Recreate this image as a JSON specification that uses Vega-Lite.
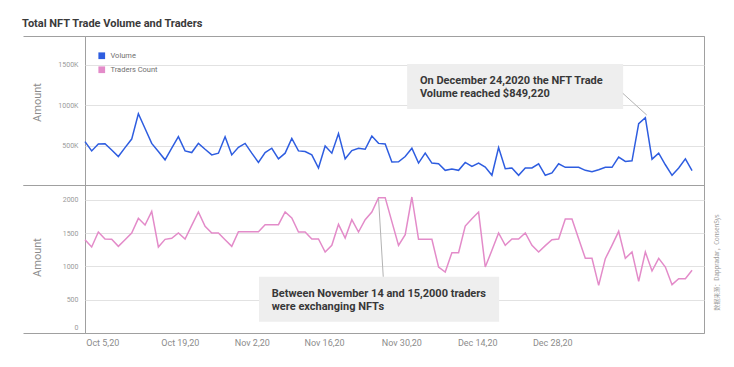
{
  "$schema": "https://vega.github.io/schema/vega-lite/v6.json",
  "padding": {"left": 22, "top": 18, "right": 10, "bottom": 5},
  "bounds": "flush",
  "spacing": 0,
  "title": {"text": "Total NFT Trade Volume and Traders", "anchor": "start", "font": "Roboto", "fontSize": 11, "fontWeight": "bold", "color": "#3a3a3a", "offset": 6},
  "data": {
    "format": {"parse": {"date": "date:'%Y-%m-%d'"}},
    "values": [
      {"date": "2020-10-01", "volume": 553000, "traders": 1400},
      {"date": "2020-10-02", "volume": 439000, "traders": 1290},
      {"date": "2020-10-03", "volume": 524000, "traders": 1515},
      {"date": "2020-10-04", "volume": 528000, "traders": 1410},
      {"date": "2020-10-05", "volume": 451000, "traders": 1405},
      {"date": "2020-10-06", "volume": 370000, "traders": 1300},
      {"date": "2020-10-07", "volume": 480000, "traders": 1400},
      {"date": "2020-10-08", "volume": 585000, "traders": 1500},
      {"date": "2020-10-09", "volume": 898000, "traders": 1720},
      {"date": "2020-10-10", "volume": 715000, "traders": 1620},
      {"date": "2020-10-11", "volume": 532000, "traders": 1825},
      {"date": "2020-10-12", "volume": 431000, "traders": 1290},
      {"date": "2020-10-13", "volume": 329000, "traders": 1405},
      {"date": "2020-10-14", "volume": 472000, "traders": 1420},
      {"date": "2020-10-15", "volume": 614000, "traders": 1500},
      {"date": "2020-10-16", "volume": 439000, "traders": 1410},
      {"date": "2020-10-17", "volume": 419000, "traders": 1615},
      {"date": "2020-10-18", "volume": 532000, "traders": 1815},
      {"date": "2020-10-19", "volume": 459000, "traders": 1600},
      {"date": "2020-10-20", "volume": 390000, "traders": 1500},
      {"date": "2020-10-21", "volume": 411000, "traders": 1500},
      {"date": "2020-10-22", "volume": 614000, "traders": 1400},
      {"date": "2020-10-23", "volume": 390000, "traders": 1300},
      {"date": "2020-10-24", "volume": 484000, "traders": 1520},
      {"date": "2020-10-25", "volume": 532000, "traders": 1520},
      {"date": "2020-10-26", "volume": 411000, "traders": 1520},
      {"date": "2020-10-27", "volume": 297000, "traders": 1520},
      {"date": "2020-10-28", "volume": 419000, "traders": 1625},
      {"date": "2020-10-29", "volume": 472000, "traders": 1625},
      {"date": "2020-10-30", "volume": 341000, "traders": 1625},
      {"date": "2020-10-31", "volume": 411000, "traders": 1815},
      {"date": "2020-11-01", "volume": 593000, "traders": 1725},
      {"date": "2020-11-02", "volume": 439000, "traders": 1515},
      {"date": "2020-11-03", "volume": 431000, "traders": 1515},
      {"date": "2020-11-04", "volume": 390000, "traders": 1410},
      {"date": "2020-11-05", "volume": 228000, "traders": 1410},
      {"date": "2020-11-06", "volume": 500000, "traders": 1215},
      {"date": "2020-11-07", "volume": 411000, "traders": 1315},
      {"date": "2020-11-08", "volume": 654000, "traders": 1630},
      {"date": "2020-11-09", "volume": 341000, "traders": 1425},
      {"date": "2020-11-10", "volume": 443000, "traders": 1700},
      {"date": "2020-11-11", "volume": 472000, "traders": 1515},
      {"date": "2020-11-12", "volume": 459000, "traders": 1700},
      {"date": "2020-11-13", "volume": 622000, "traders": 1815},
      {"date": "2020-11-14", "volume": 532000, "traders": 2030},
      {"date": "2020-11-15", "volume": 524000, "traders": 2030},
      {"date": "2020-11-16", "volume": 301000, "traders": 1670},
      {"date": "2020-11-17", "volume": 305000, "traders": 1315},
      {"date": "2020-11-18", "volume": 370000, "traders": 1475},
      {"date": "2020-11-19", "volume": 472000, "traders": 2040},
      {"date": "2020-11-20", "volume": 289000, "traders": 1405},
      {"date": "2020-11-21", "volume": 411000, "traders": 1405},
      {"date": "2020-11-22", "volume": 289000, "traders": 1405},
      {"date": "2020-11-23", "volume": 280000, "traders": 990},
      {"date": "2020-11-24", "volume": 199000, "traders": 915},
      {"date": "2020-11-25", "volume": 215000, "traders": 1205},
      {"date": "2020-11-26", "volume": 199000, "traders": 1205},
      {"date": "2020-11-27", "volume": 297000, "traders": 1605},
      {"date": "2020-11-28", "volume": 248000, "traders": 1715},
      {"date": "2020-11-29", "volume": 289000, "traders": 1815},
      {"date": "2020-11-30", "volume": 240000, "traders": 990},
      {"date": "2020-12-01", "volume": 138000, "traders": 1240},
      {"date": "2020-12-02", "volume": 480000, "traders": 1500},
      {"date": "2020-12-03", "volume": 220000, "traders": 1315},
      {"date": "2020-12-04", "volume": 228000, "traders": 1410},
      {"date": "2020-12-05", "volume": 138000, "traders": 1410},
      {"date": "2020-12-06", "volume": 228000, "traders": 1500},
      {"date": "2020-12-07", "volume": 228000, "traders": 1315},
      {"date": "2020-12-08", "volume": 280000, "traders": 1215},
      {"date": "2020-12-09", "volume": 138000, "traders": 1310},
      {"date": "2020-12-10", "volume": 167000, "traders": 1400},
      {"date": "2020-12-11", "volume": 280000, "traders": 1410},
      {"date": "2020-12-12", "volume": 236000, "traders": 1710},
      {"date": "2020-12-13", "volume": 236000, "traders": 1710},
      {"date": "2020-12-14", "volume": 236000, "traders": 1415},
      {"date": "2020-12-15", "volume": 199000, "traders": 1120},
      {"date": "2020-12-16", "volume": 183000, "traders": 1120},
      {"date": "2020-12-17", "volume": 207000, "traders": 715},
      {"date": "2020-12-18", "volume": 236000, "traders": 1115},
      {"date": "2020-12-19", "volume": 236000, "traders": 1315},
      {"date": "2020-12-20", "volume": 362000, "traders": 1525},
      {"date": "2020-12-21", "volume": 309000, "traders": 1120},
      {"date": "2020-12-22", "volume": 317000, "traders": 1215},
      {"date": "2020-12-23", "volume": 776000, "traders": 775},
      {"date": "2020-12-24", "volume": 849220, "traders": 1215},
      {"date": "2020-12-25", "volume": 337000, "traders": 930},
      {"date": "2020-12-26", "volume": 411000, "traders": 1120},
      {"date": "2020-12-27", "volume": 268000, "traders": 990},
      {"date": "2020-12-28", "volume": 138000, "traders": 725},
      {"date": "2020-12-29", "volume": 228000, "traders": 815},
      {"date": "2020-12-30", "volume": 341000, "traders": 815},
      {"date": "2020-12-31", "volume": 195000, "traders": 940}
    ]
  },
  "resolve": {"scale": {"color": "shared", "x": "independent", "y": "independent"}, "legend": {"color": "shared"}},
  "vconcat": [
    {
      "width": 619,
      "height": 149,
      "resolve": {"axis": {"x": "independent", "y": "independent"}},
      "layer": [
        {
          "data": {"values": [{}]},
          "mark": {"type": "rect", "color": "#eeeeee"},
          "encoding": {
            "x": {"datum": {"year": 2020, "month": 11, "date": 18, "hours": 7}, "type": "temporal", "axis": null},
            "x2": {"datum": {"year": 2020, "month": 12, "date": 20, "hours": 16}},
            "y": {"datum": 1512000, "type": "quantitative", "axis": null},
            "y2": {"datum": 956000}
          }
        },
        {
          "data": {"values": [{}]},
          "mark": {"type": "text", "align": "left", "baseline": "alphabetic", "font": "Roboto", "fontSize": 11, "fontWeight": "bold", "color": "#383838", "lineHeight": 12.4, "text": ["On December 24,2020 the NFT Trade", "Volume reached $849,220"]},
          "encoding": {
            "x": {"datum": {"year": 2020, "month": 11, "date": 20, "hours": 5}, "type": "temporal", "axis": null},
            "y": {"datum": 1261500, "type": "quantitative", "axis": null}
          }
        },
        {
          "data": {"values": [{}]},
          "mark": {"type": "rule", "color": "#b3b3b3", "strokeWidth": 1},
          "encoding": {
            "x": {"datum": {"year": 2020, "month": 12, "date": 20, "hours": 15}, "type": "temporal", "axis": null},
            "x2": {"datum": {"year": 2020, "month": 12, "date": 24, "hours": 5}},
            "y": {"datum": 1150000, "type": "quantitative", "axis": null},
            "y2": {"datum": 882000}
          }
        },
        {
          "mark": {"type": "line", "strokeWidth": 1.5},
          "encoding": {
            "x": {"field": "date", "type": "temporal", "scale": {"domain": [{"year": 2020, "month": 10, "date": 1}, {"year": 2021, "month": 1, "date": 1, "hours": 19}]}, "axis": null},
            "y": {
              "field": "volume", "type": "quantitative",
              "scale": {"domain": [18000, 1858000], "nice": false, "zero": false},
              "axis": {
                "orient": "left",
                "title": "Amount", "titleX": -48, "titleY": 66, "titleAngle": 270, "titleAlign": "center", "titleBaseline": "middle",
                "titleFont": "Roboto", "titleFontSize": 11, "titleFontWeight": "normal", "titleColor": "#8c8c8c",
                "values": [18000, 500000, 1000000, 1500000, 1858000],
                "labelExpr": "datum.value < 100000 || datum.value > 1800000 ? '' : format(datum.value / 1000, 'd') + 'K'",
                "labelFont": "Roboto", "labelFontSize": 7, "labelColor": "#9a9a9a",
                "labelPadding": {"condition": {"test": "datum.value < 100000 || datum.value > 1800000", "value": -55}, "value": 7},
                "domain": false,
                "ticks": true, "tickColor": "#a0a0a0",
                "tickSize": {"condition": {"test": "datum.value < 100000 || datum.value > 1800000", "value": 62}, "value": 0},
                "grid": true,
                "gridColor": {"condition": {"test": "datum.value < 100000 || datum.value > 1800000", "value": "#a0a0a0"}, "value": "#e2e2e2"}
              }
            },
            "color": {
              "datum": "Volume", "type": "nominal",
              "scale": {"domain": ["Volume", "Traders Count"], "range": ["#2e5de0", "#e38bc9"]},
              "legend": {
                "orient": "none", "legendX": 13, "legendY": 16, "title": null, "padding": 0,
                "symbolType": "square", "symbolSize": 45, "symbolStrokeWidth": 0,
                "labelFont": "Roboto", "labelFontSize": 7.5, "labelColor": "#707070", "labelOffset": 5, "rowPadding": 5,
                "encode": {"symbols": {"update": {"fill": {"scale": "color", "field": "value"}, "fillOpacity": {"value": 1}, "strokeWidth": {"value": 0}}}}
              }
            }
          }
        }
      ]
    },
    {
      "width": 619,
      "height": 148,
      "resolve": {"axis": {"x": "independent", "y": "independent"}},
      "layer": [
        {
          "data": {"values": [{}]},
          "mark": {"type": "rect", "color": "#eeeeee"},
          "encoding": {
            "x": {"datum": {"year": 2020, "month": 10, "date": 27, "hours": 2}, "type": "temporal", "axis": null},
            "x2": {"datum": {"year": 2020, "month": 12, "date": 2, "hours": 2}},
            "y": {
              "datum": 844, "type": "quantitative",
              "axis": {
                "orient": "right", "title": "数据来源：Dappradar，ConsenSys",
                "domain": false, "ticks": false, "labels": false, "grid": false,
                "titleFont": "Noto Sans CJK SC", "titleFontSize": 6, "titleFontWeight": "normal", "titleColor": "#9a9a9a",
                "titleAngle": 270, "titleX": 12, "titleY": 77, "titleAlign": "center", "titleBaseline": "middle"
              }
            },
            "y2": {"datum": 170}
          }
        },
        {
          "data": {"values": [{}]},
          "mark": {"type": "text", "align": "left", "baseline": "alphabetic", "font": "Roboto", "fontSize": 11, "fontWeight": "bold", "color": "#383838", "lineHeight": 13.3, "text": ["Between November 14 and 15,2000 traders", "were exchanging NFTs"]},
          "encoding": {
            "x": {"datum": {"year": 2020, "month": 10, "date": 29}, "type": "temporal", "axis": null},
            "y": {"datum": 545, "type": "quantitative", "axis": null}
          }
        },
        {
          "data": {"values": [{}]},
          "mark": {"type": "rule", "color": "#b3b3b3", "strokeWidth": 1},
          "encoding": {
            "x": {"datum": {"year": 2020, "month": 11, "date": 14}, "type": "temporal", "axis": null},
            "x2": {"datum": {"year": 2020, "month": 11, "date": 14, "hours": 17}},
            "y": {"datum": 2020, "type": "quantitative", "axis": null},
            "y2": {"datum": 844}
          }
        },
        {
          "mark": {"type": "line", "strokeWidth": 1.5},
          "encoding": {
            "x": {
              "field": "date", "type": "temporal",
              "scale": {"domain": [{"year": 2020, "month": 10, "date": 1}, {"year": 2021, "month": 1, "date": 1, "hours": 19}]},
              "axis": {
                "orient": "bottom",
                "title": null, "domain": false, "ticks": false, "grid": false,
                "values": [
                  {"year": 2020, "month": 10, "date": 3, "hours": 14},
                  {"year": 2020, "month": 10, "date": 15, "hours": 5},
                  {"year": 2020, "month": 10, "date": 26, "hours": 0},
                  {"year": 2020, "month": 11, "date": 5, "hours": 20},
                  {"year": 2020, "month": 11, "date": 17, "hours": 10},
                  {"year": 2020, "month": 11, "date": 28, "hours": 19},
                  {"year": 2020, "month": 12, "date": 10, "hours": 1}
                ],
                "labelExpr": "datum.value < datetime(2020,9,10) ? 'Oct 5,20' : datum.value < datetime(2020,9,20) ? 'Oct 19,20' : datum.value < datetime(2020,10,1) ? 'Nov 2,20' : datum.value < datetime(2020,10,12) ? 'Nov 16,20' : datum.value < datetime(2020,10,23) ? 'Nov 30,20' : datum.value < datetime(2020,11,5) ? 'Dec 14,20' : 'Dec 28,20'",
                "labelFont": "Roboto", "labelFontSize": 9, "labelColor": "#8c8c8c", "labelPadding": 5,
                "labelFlush": false, "labelOverlap": false
              }
            },
            "y": {
              "field": "traders", "type": "quantitative",
              "scale": {"domain": [0, 2220], "nice": false},
              "axis": {
                "orient": "left",
                "title": "Amount", "titleX": -48, "titleY": 72, "titleAngle": 270, "titleAlign": "center", "titleBaseline": "middle",
                "titleFont": "Roboto", "titleFontSize": 11, "titleFontWeight": "normal", "titleColor": "#8c8c8c",
                "values": [0, 500, 1000, 1500, 2000, 2220],
                "labelExpr": "datum.value > 2100 ? '' : format(datum.value, 'd')",
                "labelFont": "Roboto", "labelFontSize": 7, "labelColor": "#9a9a9a",
                "labelPadding": {"condition": {"test": "datum.value == 0 || datum.value > 2100", "value": -55}, "value": 7},
                "labelOffset": {"condition": {"test": "datum.value == 0", "value": -6}, "value": 0},
                "domain": false,
                "ticks": true, "tickColor": "#a0a0a0",
                "tickSize": {"condition": {"test": "datum.value == 0 || datum.value > 2100", "value": 62}, "value": 0},
                "grid": true,
                "gridColor": {"condition": {"test": "datum.value == 0 || datum.value > 2100", "value": "#a0a0a0"}, "value": "#e2e2e2"}
              }
            },
            "color": {"datum": "Traders Count", "type": "nominal"}
          }
        }
      ]
    }
  ],
  "config": {
    "view": {"stroke": "#a0a0a0", "strokeWidth": 1},
    "background": "white"
  }
}
